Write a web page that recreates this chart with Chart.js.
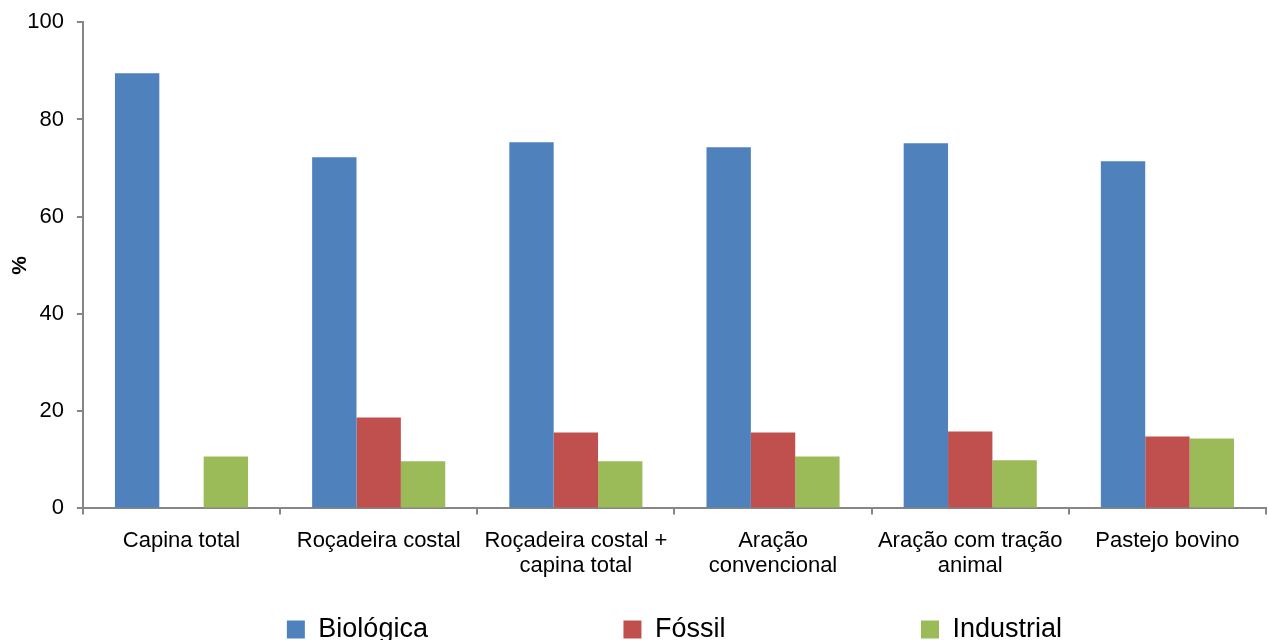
<!DOCTYPE html>
<html>
<head>
<meta charset="utf-8">
<script src="https://cdn.jsdelivr.net/npm/chart.js@4/dist/chart.umd.min.js"></script>
<style>
  html, body { margin: 0; padding: 0; background: #fff; }
  #wrap { width: 1268px; height: 640px; }
</style>
</head>
<body>
<div id="wrap"><canvas id="grafico" width="1268" height="640"></canvas></div>
<script>
const categorias = [
  'Capina total',
  'Roçadeira costal',
  ['Roçadeira costal +', 'capina total'],
  ['Aração', 'convencional'],
  ['Aração com tração', 'animal'],
  'Pastejo bovino'
];
const series = ['Biológica', 'Fóssil', 'Industrial'];
const biologica = [89.5, 72.2, 75.3, 74.3, 75.1, 71.4];
const fossil = [0, 18.7, 15.6, 15.6, 15.8, 14.8];
const industrial = [10.7, 9.7, 9.7, 10.7, 9.9, 14.4];
const ticksY = [0, 20, 40, 60, 80, 100];

const eixo = '#868686';
const fonte = "'Liberation Sans', Arial, sans-serif";
// espaco extra entre itens da legenda
const espacos = [' '.repeat(25), ' '.repeat(25), ''];

const ctx = document.getElementById('grafico').getContext('2d');
const chart = new Chart(ctx, {
  type: 'bar',
  data: {
    labels: categorias,
    datasets: [
      { label: series[0], data: biologica, backgroundColor: '#4F81BD' },
      { label: series[1], data: fossil, backgroundColor: '#C0504D' },
      { label: series[2], data: industrial, backgroundColor: '#9BBB59' }
    ]
  },
  options: {
    responsive: false,
    animation: false,
    layout: { padding: { top: 4, right: 2, left: 4, bottom: -13 } },
    datasets: {
      bar: { categoryPercentage: 0.675, barPercentage: 1.0 }
    },
    plugins: {
      tooltip: { enabled: false },
      legend: {
        position: 'bottom',
        fullSize: false,
        labels: {
          color: '#000',
          font: { family: fonte, size: 27 },
          boxWidth: 18,
          boxHeight: 18,
          padding: 8,
          generateLabels: chart => {
            const base = Chart.defaults.plugins.legend.labels.generateLabels(chart);
            base.forEach((item, i) => { item.text = item.text + espacos[i]; });
            return base;
          }
        }
      }
    },
    scales: {
      x: {
        grid: { display: true, drawOnChartArea: false, offset: true, color: eixo, tickLength: 6, lineWidth: 2 },
        border: { color: eixo, width: 2 },
        ticks: { color: '#000', font: { family: fonte, size: 22, lineHeight: 1.15 }, maxRotation: 0, padding: 14 },
        afterFit: axis => { axis.height += 15; }
      },
      y: {
        min: 0,
        max: 100,
        afterBuildTicks: axis => { axis.ticks = ticksY.map(v => ({ value: v })); },
        afterFit: axis => {
          axis.width -= 23;
          axis.paddingTop = Math.max(0, axis.paddingTop - 4);
        },
        grid: { display: true, drawOnChartArea: false, color: eixo, tickLength: 6, lineWidth: 2 },
        border: { color: eixo, width: 2 },
        ticks: { color: '#000', font: { family: fonte, size: 22 }, padding: 13 },
        title: { display: true, text: '%', color: '#000', font: { family: fonte, size: 21, weight: 'bold' } }
      }
    }
  }
});
</script>
</body>
</html>
